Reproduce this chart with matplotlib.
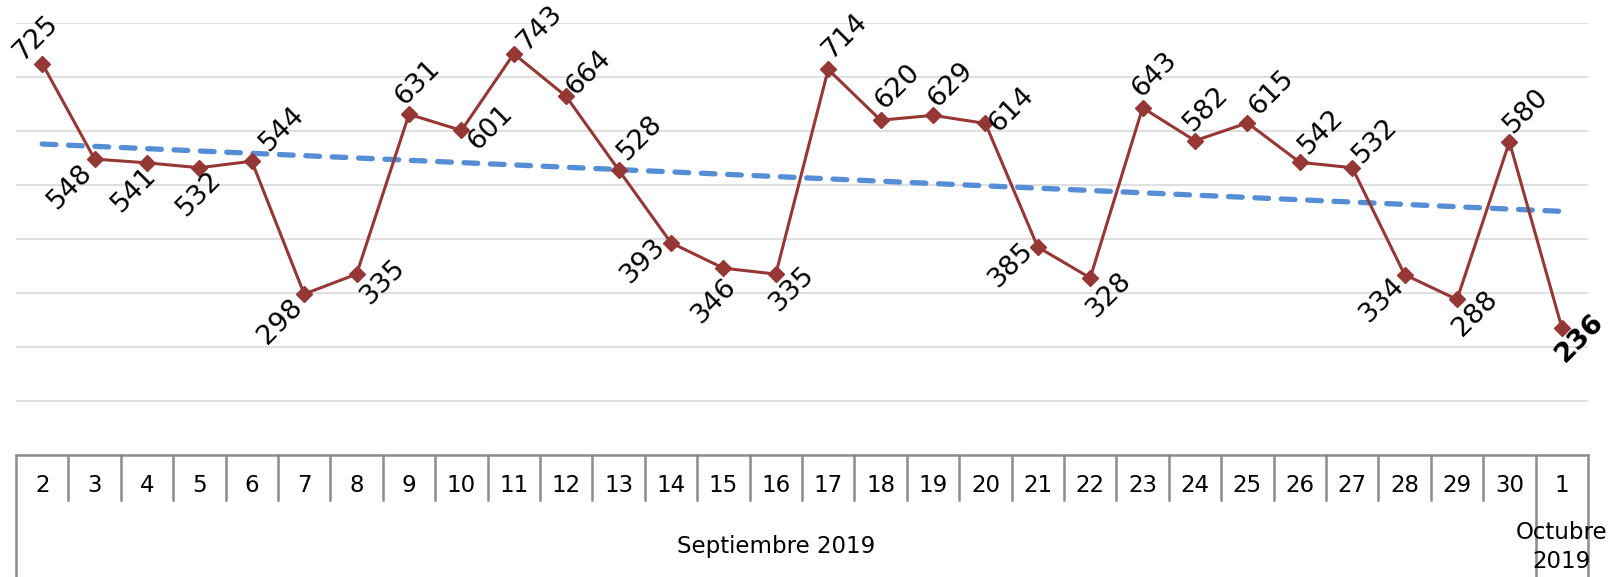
import numpy as np
from matplotlib import pyplot as plt
from matplotlib.lines import Line2D
import matplotlib.transforms as mtransforms

days = ["2", "3", "4", "5", "6", "7", "8", "9", "10", "11", "12", "13", "14", "15", "16",
        "17", "18", "19", "20", "21", "22", "23", "24", "25", "26", "27", "28", "29", "30", "1"]
values = [725, 548, 541, 532, 544, 298, 335, 631, 601, 743, 664, 528, 393, 346, 335,
          714, 620, 629, 614, 385, 328, 643, 582, 615, 542, 532, 334, 288, 580, 236]
months = ["Septiembre 2019", "Octubre\n2019"]
month_sizes = [29, 1]

# label centre offsets from the marker, in pixels (x right, y up)
label_offsets = [(-6, 26), (-24, -28), (-13, -27), (0, -26), (30, 32), (-24, -28), (27, -8),
                 (8, 32), (29, 3), (26, 26), (22, 24), (22, 32), (-28, -18), (-9, -33), (16, -15),
                 (17, 34), (17, 33), (17, 31), (26, 14), (-27, -18), (19, -17), (12, 33), (11, 32),
                 (24, 30), (21, 31), (23, 27), (-22, -25), (18, -14), (17, 31), (18, -10)]

plt.rcParams['font.family'] = ['DejaVu Sans']

W, H = 1613, 577
fig = plt.figure(figsize=(W / 100, H / 100), dpi=100)
ax = fig.add_axes([16 / W, 122 / H, (1588 - 16) / W, (455 - 23) / H])

x = np.arange(len(values))
line_col = '#953735'

ax.set_ylim(0, 800)
ax.set_xlim(-0.5, len(values) - 0.5)
for yv in range(100, 801, 100):
    ax.axhline(yv, color='#d9d9d9', lw=1.2, zorder=0)

ax.plot(x, values, color=line_col, lw=2.2, marker='D', markersize=8.5, zorder=3)

# linear trendline
k, b = np.polyfit(x, values, 1)
ax.plot(x, k * x + b, color='#558ED5', lw=3.8, dashes=(2.6, 2.4),
        dash_capstyle='round', zorder=2)

for i, (v, (dx, dy)) in enumerate(zip(values, label_offsets)):
    bold = i == len(values) - 1
    ax.annotate(str(v), (i, v), xytext=(dx, dy), textcoords='offset pixels',
                ha='center', va='center', rotation=45, fontsize=19.5,
                fontweight='bold' if bold else 'normal', color='black', zorder=4)

for s in ax.spines.values():
    s.set_visible(False)
ax.set_xticks([])
ax.set_yticks([])

# category table under the axis
trans = mtransforms.blended_transform_factory(ax.transData, ax.transAxes)
ax_h = 455 - 23
axis_col = '#8c8c8c'
ax.add_line(Line2D([-0.5, len(values) - 0.5], [0, 0], transform=trans, color=axis_col,
                   lw=1.8, clip_on=False))
group_edges = np.concatenate([[0], np.cumsum(month_sizes)]) - 0.5
for e in range(len(values) + 1):
    xe = e - 0.5
    bottom = -122 / ax_h if xe in group_edges else -45 / ax_h
    ax.add_line(Line2D([xe, xe], [0, bottom], transform=trans, color=axis_col,
                       lw=1.8, clip_on=False))
for i, d in enumerate(days):
    ax.text(i, -30 / ax_h, d, transform=trans, ha='center', va='center', fontsize=16.5)

start = 0
for m, n in zip(months, month_sizes):
    cx = start + (n - 1) / 2
    ax.text(cx, -92 / ax_h, m, transform=trans, ha='center', va='center', fontsize=16.5,
            linespacing=1.3)
    start += n

fig.savefig('out.png', dpi=100)
